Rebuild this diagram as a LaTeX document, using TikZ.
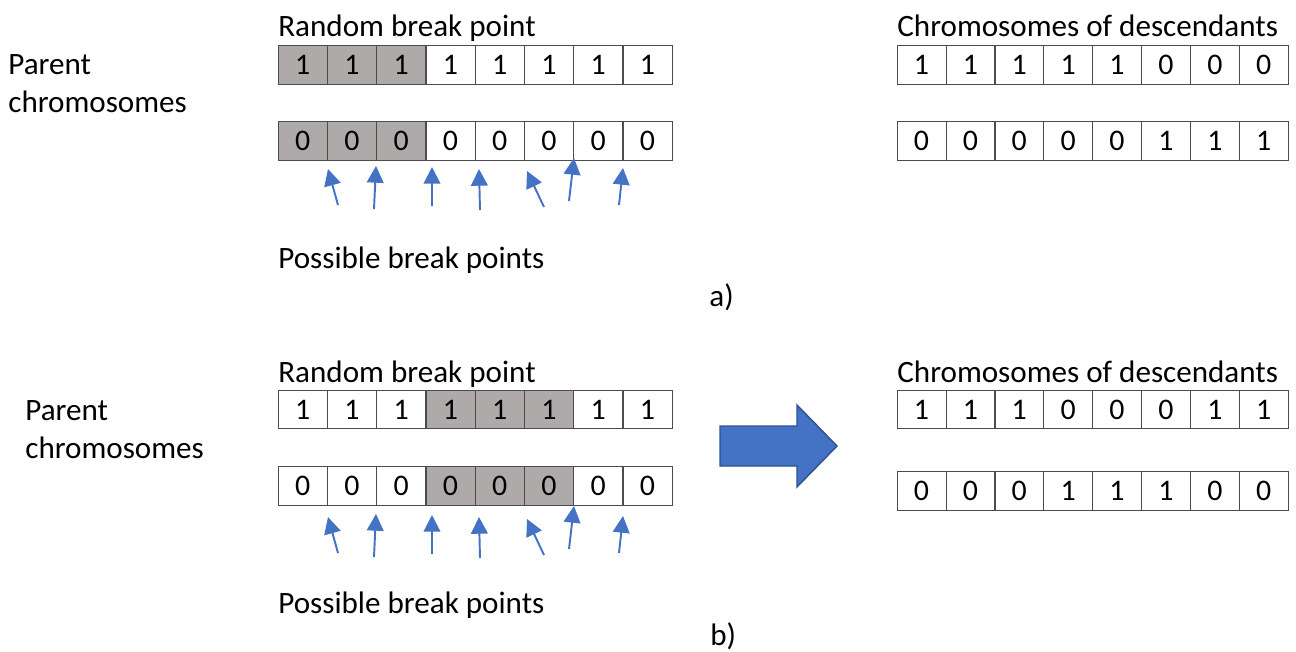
\documentclass[tikz,border=0pt]{standalone}
\usepackage{fontspec}
\setmainfont{Carlito}
\usetikzlibrary{arrows.meta}
\definecolor{cutgray}{HTML}{AEAAAA}
\definecolor{bpblue}{HTML}{4472C4}
\definecolor{bpdark}{HTML}{2F528F}

\begin{document}
\begin{tikzpicture}[x=0.02cm,y=-0.02cm,
  cell/.style={draw=black!70, minimum width=0.98cm, minimum height=0.77cm, inner sep=0pt, font=\fontsize{17}{20}\selectfont},
  cut/.style={cell, fill=cutgray},
  bp/.style={draw=bpblue, line width=1.1pt, -{Triangle[width=9.5pt,length=9.5pt]}},
  txt/.style={anchor=base west, inner sep=0pt, font=\fontsize{17.7}{21}\selectfont}]
\useasboundingbox (0,0) rectangle (1296,652);
%\draw[step=50,help lines] (0,0) grid (1296,652);

% a) one-point crossover
\node[txt] (rnda) at (278,37) {Random break point};
\node[txt] (desa) at (897,37) {Chromosomes of descendants};
\node[txt] (par1a) at (8,75) {Parent};
\node[txt] (par2a) at (8,113) {chromosomes};
\node[txt] (posa) at (278,268) {Possible break points};
\node[txt] (taga) at (709,306) {a)};
\foreach \b/\s [count=\i] in {1/cut,1/cut,1/cut,1/cell,1/cell,1/cell,1/cell,1/cell}
  \node[\s] (a1-\i) at ({253.4+49.25*\i},65) {\b};
\foreach \b/\s [count=\i] in {0/cut,0/cut,0/cut,0/cell,0/cell,0/cell,0/cell,0/cell}
  \node[\s] (a2-\i) at ({253.4+49.25*\i},141) {\b};
\foreach \b [count=\i] in {1,1,1,1,1,0,0,0}
  \node[cell] (ad1-\i) at ({872.55+48.9*\i},65) {\b};
\foreach \b [count=\i] in {0,0,0,0,0,1,1,1}
  \node[cell] (ad2-\i) at ({872.55+48.9*\i},141) {\b};

% b) two-point crossover
\node[txt] (rndb) at (278,382) {Random break point};
\node[txt] (desb) at (897,382) {Chromosomes of descendants};
\node[txt] (par1b) at (25,420) {Parent};
\node[txt] (par2b) at (25,458) {chromosomes};
\node[txt] (posb) at (278,613) {Possible break points};
\node[txt] (tagb) at (710,645) {b)};
\foreach \b/\s [count=\i] in {1/cell,1/cell,1/cell,1/cut,1/cut,1/cut,1/cell,1/cell}
  \node[\s] (b1-\i) at ({253.4+49.25*\i},409.5) {\b};
\foreach \b/\s [count=\i] in {0/cell,0/cell,0/cell,0/cut,0/cut,0/cut,0/cell,0/cell}
  \node[\s] (b2-\i) at ({253.4+49.25*\i},486) {\b};
\foreach \b [count=\i] in {1,1,1,0,0,0,1,1}
  \node[cell] (bd1-\i) at ({872.55+48.9*\i},409.5) {\b};
\foreach \b [count=\i] in {0,0,0,1,1,1,0,0}
  \node[cell] (bd2-\i) at ({872.55+48.9*\i},491) {\b};

% possible break points
\foreach \p/\o in {a/0,b/348}
  \foreach \tx/\ty/\hx/\hy [count=\k] in {338/205/328/169, 374/209/376/166,
      432/206/432/167, 480/210/479/169, 544/207/527/171, 569/201/574/158,
      619/205/623/168} {
    \coordinate (\p t\k) at (\tx,\ty+\o);
    \coordinate (\p h\k) at (\hx,\hy+\o);
    \draw[bp] (\p t\k) -- (\p h\k);
  }

% big arrow
\filldraw[fill=bpblue, draw=bpdark, line width=0.8pt]
  (720,426) -- (797,426) -- (797,405) -- (837,446) -- (797,487)
  -- (797,466) -- (720,466) -- cycle;
\end{tikzpicture}
\end{document}
